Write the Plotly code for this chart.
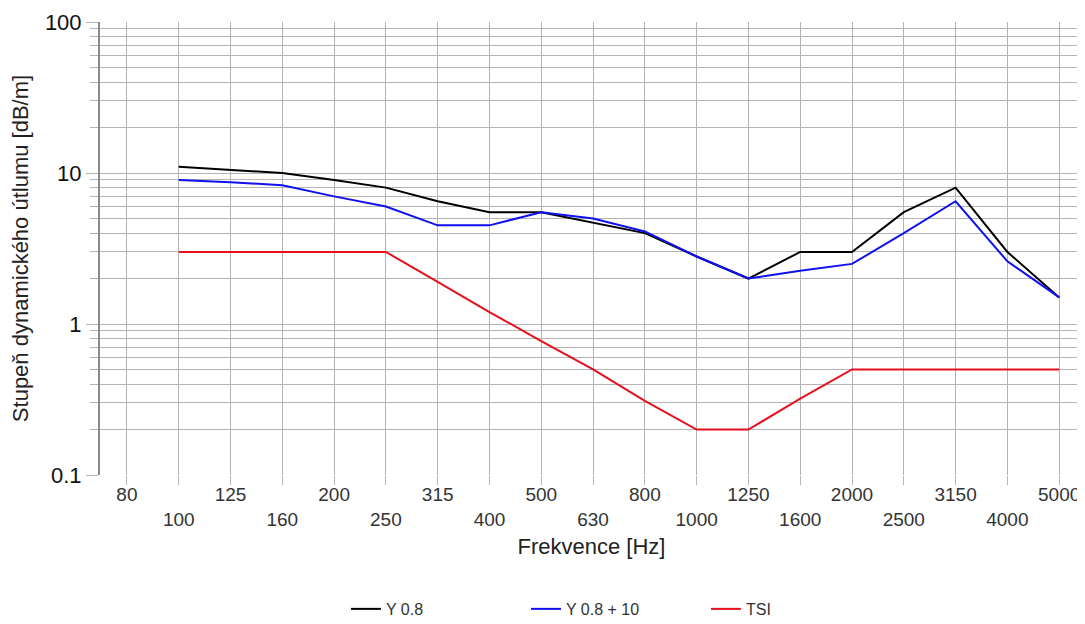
import plotly.graph_objects as go

freq_labels = ["80", "100", "125", "160", "200", "250", "315", "400", "500", "630",
               "800", "1000", "1250", "1600", "2000", "2500", "3150", "4000", "5000"]

# values start at 100 Hz (index 1)
series_freqs = freq_labels[1:]
y08 = [11, 10.5, 10, 9, 8, 6.5, 5.5, 5.5, 4.7, 4, 2.8, 2, 3, 3, 5.5, 8, 3, 1.5]
y08_10 = [9, 8.7, 8.3, 7, 6, 4.5, 4.5, 5.5, 5, 4.1, 2.8, 2, 2.25, 2.5, 4, 6.5, 2.6, 1.5]
tsi = [3, 3, 3, 3, 3, 1.9, 1.2, 0.77, 0.5, 0.31, 0.2, 0.2, 0.32, 0.5, 0.5, 0.5, 0.5, 0.5]

series_names = ["Y 0.8", "Y 0.8 + 10", "TSI"]
series_colors = ["#000000", "#1010f0", "#e8101c"]

idx = {f: i for i, f in enumerate(freq_labels)}
xs = [idx[f] for f in series_freqs]

fig = go.Figure()
for name, vals, col in zip(series_names, [y08, y08_10, tsi], series_colors):
    fig.add_trace(go.Scatter(x=xs, y=vals, mode="lines", name=name,
                             line=dict(color=col, width=2)))

ticktext = [t if i % 2 == 0 else "<br>" + t for i, t in enumerate(freq_labels)]

minor_vals = []
for dec in [0.1, 1, 10]:
    for m in range(2, 10):
        minor_vals.append(dec * m)

grid = "#b4b4b4"
font_family = "Liberation Sans, Arial, sans-serif"

fig.update_layout(
    width=1077, height=616,
    margin=dict(l=92, r=2, t=14, b=149),
    paper_bgcolor="white", plot_bgcolor="white",
    font=dict(family=font_family, color="#222222"),
    showlegend=True,
    legend=dict(orientation="h", xref="container", yref="container",
                x=0.3138, xanchor="left", y=0.0244, yanchor="middle",
                font=dict(size=16, color="#333333"), entrywidth=135,
                bgcolor="rgba(0,0,0,0)"),
    xaxis=dict(
        automargin=False,
        range=[-0.52, 18.46],
        tickmode="array", tickvals=list(range(len(freq_labels))), ticktext=ticktext,
        showgrid=True, gridcolor=grid, gridwidth=1,
        ticks="outside", ticklen=9, tickcolor=grid, tickwidth=1,
        ticklabelstandoff=-7,
        tickfont=dict(size=19, color="#333333"),
        showline=False, zeroline=False,
        title=dict(text="Frekvence [Hz]", font=dict(size=22, color="#222222"), standoff=10),
    ),
    yaxis=dict(
        automargin=False,
        type="log", range=[-1, 2],
        tickmode="array", tickvals=[0.1, 1, 10, 100], ticktext=["0.1", "1", "10", "100"],
        showgrid=True, gridcolor=grid, gridwidth=1,
        ticks="outside", ticklen=12, tickcolor=grid, tickwidth=1,
        tickfont=dict(size=22, color="#111111"),
        minor=dict(tickvals=minor_vals, showgrid=True, gridcolor=grid, gridwidth=1,
                   ticks="outside", ticklen=8, tickcolor=grid),
        showline=True, linecolor="#888888", linewidth=2,
        zeroline=False,
        title=dict(text="Stupeň dynamického útlumu [dB/m]", font=dict(size=22, color="#222222"),
                   standoff=10),
    ),
)

fig.write_html("out.html")
